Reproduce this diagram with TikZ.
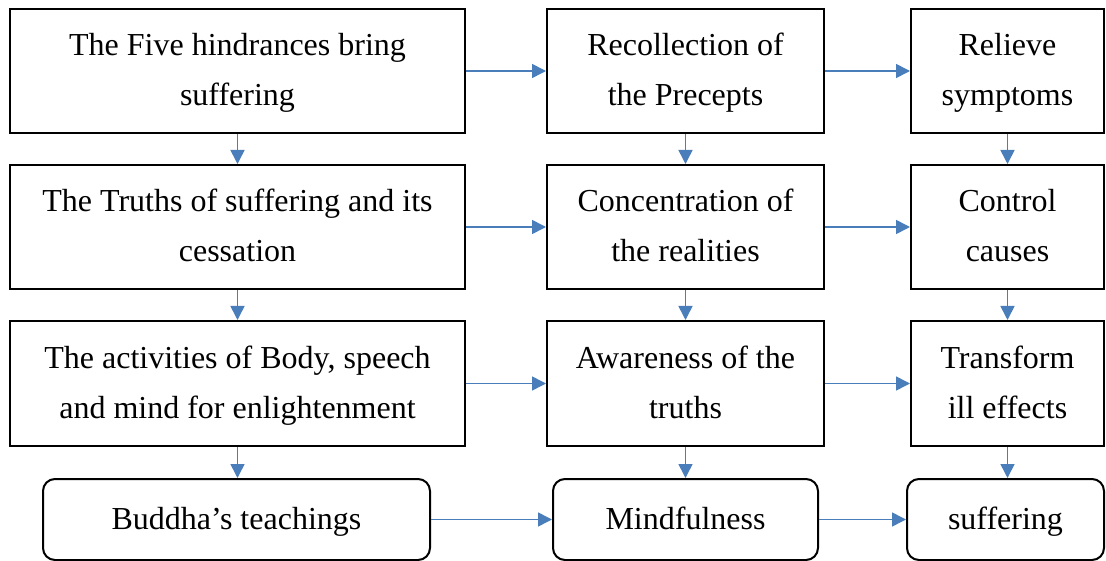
\documentclass[tikz,border=0pt]{standalone}
\usepackage{fontspec}
\setmainfont{Liberation Serif}
\usetikzlibrary{arrows.meta}
\definecolor{arrowblue}{RGB}{74,126,187}
\tikzset{
  box/.style={draw=black, line width=2pt, inner sep=0pt, align=center,
    font=\fontsize{32}{50}\selectfont},
  rbox/.style={box, rounded corners=12pt},
  conn/.style={draw=arrowblue, line width=1.6pt, -{Triangle[length=14pt,width=14pt]}}
}
\begin{document}
\begin{tikzpicture}[x=1pt,y=-1pt]
\useasboundingbox (0,0) rectangle (1106,561);
% column 1
\node[box, minimum width=455pt, minimum height=124pt] (a1) at (237.5,71) {\strut The Five hindrances bring\\\strut suffering};
\node[box, minimum width=455pt, minimum height=124pt] (a2) at (237.5,227) {\strut The Truths of suffering and its\\\strut cessation};
\node[box, minimum width=455pt, minimum height=125pt] (a3) at (237.5,383.5) {\strut The activities of Body, speech\\\strut and mind for enlightenment};
\node[rbox, minimum width=387pt, minimum height=81pt] (a4) at (236.5,519.5) {\strut Buddha’s teachings};
% column 2
\node[box, minimum width=277pt, minimum height=124pt] (b1) at (685.5,71) {\strut Recollection of\\\strut the Precepts};
\node[box, minimum width=277pt, minimum height=124pt] (b2) at (685.5,227) {\strut Concentration of\\\strut the realities};
\node[box, minimum width=277pt, minimum height=125pt] (b3) at (685.5,383.5) {\strut Awareness of the\\\strut truths};
\node[rbox, minimum width=265pt, minimum height=81pt] (b4) at (685.5,519.5) {\strut Mindfulness};
% column 3
\node[box, minimum width=193pt, minimum height=124pt] (c1) at (1007.5,71) {\strut Relieve\\\strut symptoms};
\node[box, minimum width=193pt, minimum height=124pt] (c2) at (1007.5,227) {\strut Control\\\strut causes};
\node[box, minimum width=193pt, minimum height=125pt] (c3) at (1007.5,383.5) {\strut Transform\\\strut ill effects};
\node[rbox, minimum width=197pt, minimum height=81pt] (c4) at (1005.5,519.5) {\strut suffering};
% horizontal connectors
\draw[conn] (a1.east) -- (b1.west);
\draw[conn] (b1.east) -- (c1.west);
\draw[conn] (a2.east) -- (b2.west);
\draw[conn] (b2.east) -- (c2.west);
\draw[conn] (a3.east) -- (b3.west);
\draw[conn] (b3.east) -- (c3.west);
\draw[conn] (a4.east) -- (b4.west);
\draw[conn] (b4.east) -- (c4.west);
% vertical connectors
\draw[conn] (a1.south) -- (a2.north);
\draw[conn] (a2.south) -- (a3.north);
\draw[conn] (a3.south) -- (a3.south |- a4.north);
\draw[conn] (b1.south) -- (b2.north);
\draw[conn] (b2.south) -- (b3.north);
\draw[conn] (b3.south) -- (b4.north);
\draw[conn] (c1.south) -- (c2.north);
\draw[conn] (c2.south) -- (c3.north);
\draw[conn] (c3.south) -- (c3.south |- c4.north);
\end{tikzpicture}
\end{document}
